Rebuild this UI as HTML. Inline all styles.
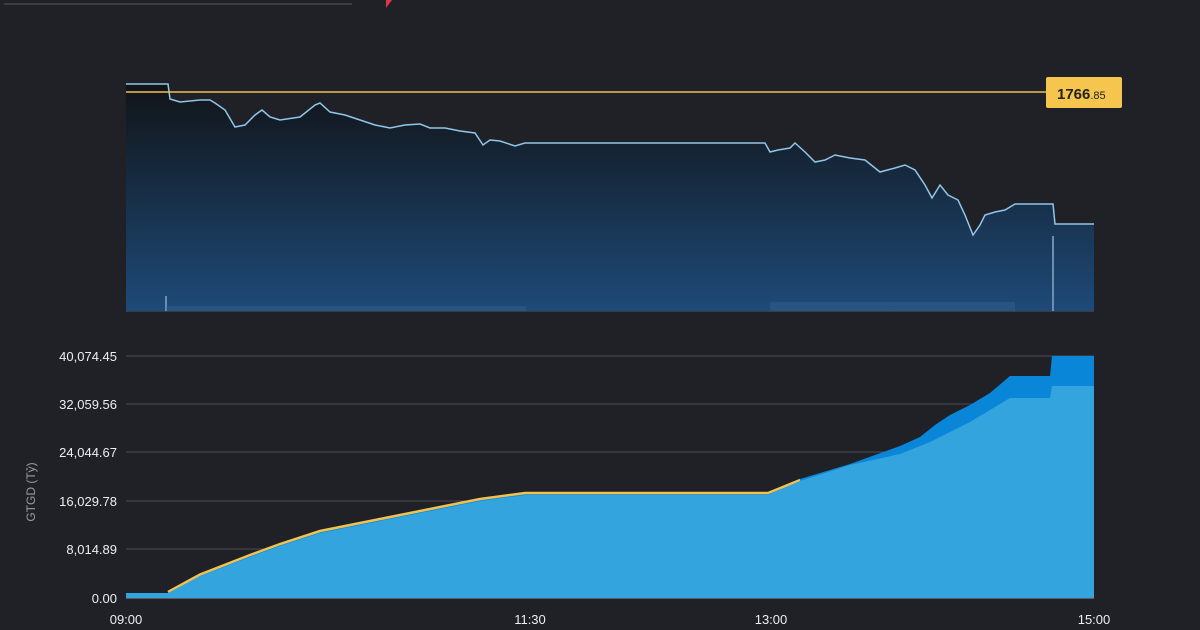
<!DOCTYPE html>
<html><head><meta charset="utf-8"><style>
html,body{margin:0;padding:0;background:#202127;}
svg{display:block;font-family:"Liberation Sans",sans-serif;}
</style></head><body>
<svg width="1200" height="630" viewBox="0 0 1200 630">
<defs>
<linearGradient id="g" x1="0" y1="0" x2="0" y2="1">
<stop offset="0" stop-color="#111417"/><stop offset="1" stop-color="#1e4a78"/>
</linearGradient>
</defs>
<rect width="1200" height="630" fill="#202127"/>
<line x1="4" y1="4" x2="352" y2="4" stroke="#3a3c44" stroke-width="2"/>
<path d="M386,0 L392,0 L386,8 Z" fill="#e0344a"/>
<polygon fill="url(#g)" points="126,311 126,84 168,84 170,99 180,102 200,100 210,100 215,103 225,110 235,127 245,125 255,115 262,110 270,117 280,120 300,117 315,105 320,103 330,112 345,115 360,120 375,125 390,128 405,125 420,124 430,128 445,128 460,131 475,133 483,145 490,140 500,141 515,146 525,143 765,143 770,152 778,150 790,148 795,143 805,152 815,162 825,160 835,155 850,158 865,160 880,172 895,168 905,165 915,170 925,185 932,198 940,185 948,195 958,200 965,215 973,235 980,225 985,215 995,212 1005,210 1015,204 1053,204 1055,224 1094,224 1094,311"/>
<polyline fill="none" stroke="#8fc6ea" stroke-width="1.5" points="126,84 168,84 170,99 180,102 200,100 210,100 215,103 225,110 235,127 245,125 255,115 262,110 270,117 280,120 300,117 315,105 320,103 330,112 345,115 360,120 375,125 390,128 405,125 420,124 430,128 445,128 460,131 475,133 483,145 490,140 500,141 515,146 525,143 765,143 770,152 778,150 790,148 795,143 805,152 815,162 825,160 835,155 850,158 865,160 880,172 895,168 905,165 915,170 925,185 932,198 940,185 948,195 958,200 965,215 973,235 980,225 985,215 995,212 1005,210 1015,204 1053,204 1055,224 1094,224"/>
<line x1="1053" y1="236" x2="1053" y2="311" stroke="#6a8fb0" stroke-width="2"/>
<line x1="166" y1="296" x2="166" y2="311" stroke="#6a8fb0" stroke-width="2"/>
<rect x="166" y="306" width="360" height="5" fill="#3a6a98" opacity="0.35"/>
<rect x="770" y="302" width="245" height="9" fill="#3a6a98" opacity="0.35"/>
<line x1="126" y1="311.5" x2="1094" y2="311.5" stroke="#3a3c44"/>
<line x1="126" y1="92" x2="1046" y2="92" stroke="#f2c14e" stroke-width="1.5"/>
<rect x="1046" y="77" width="76" height="31" rx="2" fill="#f6c54d"/>
<text x="1057" y="99" font-size="15" font-weight="bold" fill="#222">1766<tspan font-size="11" font-weight="normal">.85</tspan></text>
<g stroke="#4a4c54" stroke-width="1">
<line x1="126" y1="356" x2="1094" y2="356"/><line x1="126" y1="404" x2="1094" y2="404"/>
<line x1="126" y1="452" x2="1094" y2="452"/><line x1="126" y1="501" x2="1094" y2="501"/>
<line x1="126" y1="549" x2="1094" y2="549"/>
</g>
<polygon fill="#0a86d8" points="126,598 126,593 168,593 200,574 250,555 280,544 320,531 380,519 430,509 480,499 525,492 768,492 800,479 850,464 900,446 920,437 935,425 950,415 970,405 990,393 1010,376 1050,376 1052,356 1094,356 1094,598"/>
<polyline fill="none" stroke="#f2c14e" stroke-width="2.5" points="168,592 200,574.5 250,555 280,544 320,531 380,519 430,509 480,499 525,493 768,493 800,480"/>
<polygon fill="#34a4de" points="126,598 126,593 168,593 200,576 250,557 280,546 320,533 380,521 430,511 480,501 525,495 768,495 800,481 850,465 900,454 930,442 970,422 1010,398 1050,398 1052,386 1094,386 1094,598"/>
<line x1="126" y1="598.5" x2="1094" y2="598.5" stroke="#5a5c64"/>
<g font-size="13" fill="#eeeef0" text-anchor="end">
<text x="117" y="361">40,074.45</text><text x="117" y="409">32,059.56</text>
<text x="117" y="457">24,044.67</text><text x="117" y="506">16,029.78</text>
<text x="117" y="554">8,014.89</text><text x="117" y="603">0.00</text>
</g>
<text transform="translate(35,492) rotate(-90)" font-size="12" fill="#9a9ca4" text-anchor="middle">GTGD (Tỷ)</text>
<g font-size="13" fill="#eeeef0" text-anchor="middle">
<text x="126" y="624">09:00</text><text x="530" y="624">11:30</text>
<text x="771" y="624">13:00</text><text x="1094" y="624">15:00</text>
</g>
</svg>
</body></html>
